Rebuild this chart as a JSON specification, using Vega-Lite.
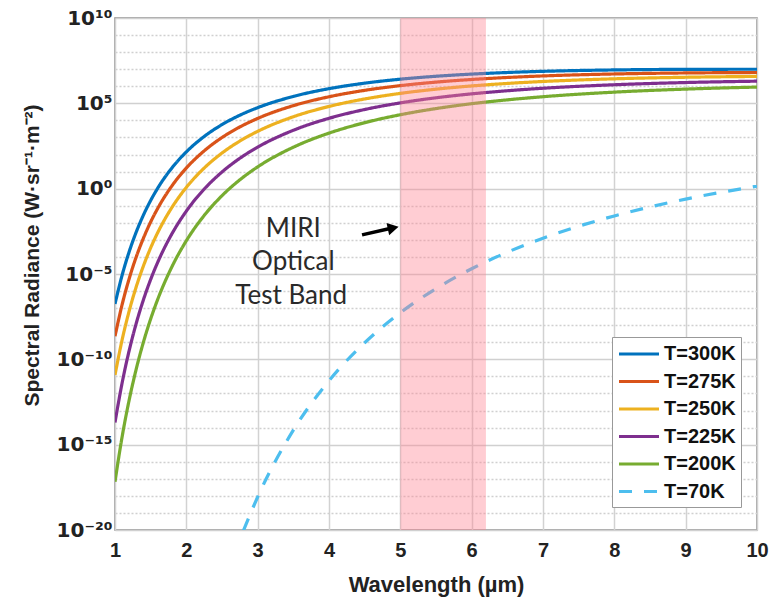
{
  "$schema": "https://vega.github.io/schema/vega-lite/v6.json",
  "width": 642,
  "height": 512,
  "autosize": "none",
  "padding": {"left": 115, "top": 18, "right": 22, "bottom": 75},
  "background": "white",
  "config": {
    "view": {"stroke": "#8a8a8a", "strokeWidth": 1.5},
    "font": "Liberation Sans"
  },
  "datasets": {
    "curves": [
      {"wl":1,"B":1.77e-7,"series":"T=300K"},{"wl":1.1,"B":8.59e-6,"series":"T=300K"},{"wl":1.2,"B":2.10e-4,"series":"T=300K"},{"wl":1.3,"B":3.05e-3,"series":"T=300K"},{"wl":1.4,"B":2.93e-2,"series":"T=300K"},{"wl":1.5,"B":0.204,"series":"T=300K"},{"wl":1.6,"B":1.09,"series":"T=300K"},{"wl":1.8,"B":16.9,"series":"T=300K"},{"wl":2,"B":143,"series":"T=300K"},{"wl":2.25,"B":1143,"series":"T=300K"},{"wl":2.5,"B":5675,"series":"T=300K"},{"wl":2.75,"B":20180,"series":"T=300K"},{"wl":3,"B":55850,"series":"T=300K"},{"wl":3.5,"B":254100,"series":"T=300K"},{"wl":4,"B":722800,"series":"T=300K"},{"wl":4.5,"B":1517000,"series":"T=300K"},{"wl":5,"B":2.60e6,"series":"T=300K"},{"wl":5.5,"B":3.86e6,"series":"T=300K"},{"wl":6,"B":5.16e6,"series":"T=300K"},{"wl":6.5,"B":6.41e6,"series":"T=300K"},{"wl":7,"B":7.50e6,"series":"T=300K"},{"wl":8,"B":9.06e6,"series":"T=300K"},{"wl":9,"B":9.80e6,"series":"T=300K"},{"wl":10,"B":9.93e6,"series":"T=300K"},
      {"wl":1,"B":2.26e-9,"series":"T=275K"},{"wl":1.1,"B":1.63e-7,"series":"T=275K"},{"wl":1.2,"B":5.56e-6,"series":"T=275K"},{"wl":1.3,"B":1.07e-4,"series":"T=275K"},{"wl":1.4,"B":1.30e-3,"series":"T=275K"},{"wl":1.5,"B":1.12e-2,"series":"T=275K"},{"wl":1.6,"B":7.14e-2,"series":"T=275K"},{"wl":1.8,"B":1.50,"series":"T=275K"},{"wl":2,"B":16.2,"series":"T=275K"},{"wl":2.25,"B":164,"series":"T=275K"},{"wl":2.5,"B":993,"series":"T=275K"},{"wl":2.75,"B":4130,"series":"T=275K"},{"wl":3,"B":13060,"series":"T=275K"},{"wl":3.5,"B":73120,"series":"T=275K"},{"wl":4,"B":242700,"series":"T=275K"},{"wl":4.5,"B":576800,"series":"T=275K"},{"wl":5,"B":1.089e6,"series":"T=275K"},{"wl":5.5,"B":1.75e6,"series":"T=275K"},{"wl":6,"B":2.50e6,"series":"T=275K"},{"wl":6.5,"B":3.27e6,"series":"T=275K"},{"wl":7,"B":4.03e6,"series":"T=275K"},{"wl":8,"B":5.26e6,"series":"T=275K"},{"wl":9,"B":6.03e6,"series":"T=275K"},{"wl":10,"B":6.41e6,"series":"T=275K"},
      {"wl":1,"B":1.21e-11,"series":"T=250K"},{"wl":1.1,"B":1.40e-9,"series":"T=250K"},{"wl":1.2,"B":7.11e-8,"series":"T=250K"},{"wl":1.3,"B":1.91e-6,"series":"T=250K"},{"wl":1.4,"B":3.10e-5,"series":"T=250K"},{"wl":1.5,"B":3.41e-4,"series":"T=250K"},{"wl":1.6,"B":2.72e-3,"series":"T=250K"},{"wl":1.8,"B":8.20e-2,"series":"T=250K"},{"wl":2,"B":1.19,"series":"T=250K"},{"wl":2.25,"B":16.1,"series":"T=250K"},{"wl":2.5,"B":122.5,"series":"T=250K"},{"wl":2.75,"B":616.6,"series":"T=250K"},{"wl":3,"B":2286,"series":"T=250K"},{"wl":3.5,"B":16410,"series":"T=250K"},{"wl":4,"B":65610,"series":"T=250K"},{"wl":4.5,"B":180300,"series":"T=250K"},{"wl":5,"B":381900,"series":"T=250K"},{"wl":5.5,"B":676100,"series":"T=250K"},{"wl":6,"B":1.045e6,"series":"T=250K"},{"wl":6.5,"B":1.466e6,"series":"T=250K"},{"wl":7,"B":1.906e6,"series":"T=250K"},{"wl":8,"B":2.735e6,"series":"T=250K"},{"wl":9,"B":3.37e6,"series":"T=250K"},{"wl":10,"B":3.78e6,"series":"T=250K"},
      {"wl":1,"B":2.01e-14,"series":"T=225K"},{"wl":1.1,"B":4.19e-12,"series":"T=225K"},{"wl":1.2,"B":3.44e-10,"series":"T=225K"},{"wl":1.3,"B":1.39e-8,"series":"T=225K"},{"wl":1.4,"B":3.22e-7,"series":"T=225K"},{"wl":1.5,"B":4.80e-6,"series":"T=225K"},{"wl":1.6,"B":4.98e-5,"series":"T=225K"},{"wl":1.8,"B":2.35e-3,"series":"T=225K"},{"wl":2,"B":4.84e-2,"series":"T=225K"},{"wl":2.25,"B":0.938,"series":"T=225K"},{"wl":2.5,"B":9.48,"series":"T=225K"},{"wl":2.75,"B":60.3,"series":"T=225K"},{"wl":3,"B":271,"series":"T=225K"},{"wl":3.5,"B":2636,"series":"T=225K"},{"wl":4,"B":13270,"series":"T=225K"},{"wl":4.5,"B":43450,"series":"T=225K"},{"wl":5,"B":106400,"series":"T=225K"},{"wl":5.5,"B":211400,"series":"T=225K"},{"wl":6,"B":359700,"series":"T=225K"},{"wl":6.5,"B":547000,"series":"T=225K"},{"wl":7,"B":765600,"series":"T=225K"},{"wl":8,"B":1.227e6,"series":"T=225K"},{"wl":9,"B":1.656e6,"series":"T=225K"},{"wl":10,"B":1.99e6,"series":"T=225K"},
      {"wl":1,"B":6.81e-18,"series":"T=200K"},{"wl":1.1,"B":2.92e-15,"series":"T=200K"},{"wl":1.2,"B":4.41e-13,"series":"T=200K"},{"wl":1.3,"B":2.97e-11,"series":"T=200K"},{"wl":1.4,"B":1.07e-9,"series":"T=200K"},{"wl":1.5,"B":2.33e-8,"series":"T=200K"},{"wl":1.6,"B":3.37e-7,"series":"T=200K"},{"wl":1.8,"B":2.77e-5,"series":"T=200K"},{"wl":2,"B":8.89e-4,"series":"T=200K"},{"wl":2.25,"B":2.69e-2,"series":"T=200K"},{"wl":2.5,"B":0.388,"series":"T=200K"},{"wl":2.75,"B":3.30,"series":"T=200K"},{"wl":3,"B":18.9,"series":"T=200K"},{"wl":3.5,"B":268.5,"series":"T=200K"},{"wl":4,"B":1799,"series":"T=200K"},{"wl":4.5,"B":7362,"series":"T=200K"},{"wl":5,"B":21480,"series":"T=200K"},{"wl":5.5,"B":49320,"series":"T=200K"},{"wl":6,"B":95060,"series":"T=200K"},{"wl":6.5,"B":160000,"series":"T=200K"},{"wl":7,"B":244300,"series":"T=200K"},{"wl":8,"B":452900,"series":"T=200K"},{"wl":9,"B":682300,"series":"T=200K"},{"wl":10,"B":895400,"series":"T=200K"},
      {"wl":2.8,"B":9.12e-21,"series":"T=70K"},{"wl":3,"B":8.61e-19,"series":"T=70K"},{"wl":3.5,"B":7.10e-15,"series":"T=70K"},{"wl":4,"B":5.61e-12,"series":"T=70K"},{"wl":4.5,"B":9.40e-10,"series":"T=70K"},{"wl":5,"B":5.35e-8,"series":"T=70K"},{"wl":5.5,"B":1.39e-6,"series":"T=70K"},{"wl":6,"B":2.03e-5,"series":"T=70K"},{"wl":6.5,"B":1.90e-4,"series":"T=70K"},{"wl":7,"B":1.26e-3,"series":"T=70K"},{"wl":8,"B":2.53e-2,"series":"T=70K"},{"wl":9,"B":0.244,"series":"T=70K"},{"wl":10,"B":1.41,"series":"T=70K"}
    ],
    "band": [{"wl": 5, "wl2": 6.2}],
    "notes": [
      {"wl": 3.5, "B": 4.37e-3, "label": "MIRI"},
      {"wl": 3.5, "B": 5.13e-5, "label": "Optical"},
      {"wl": 3.47, "B": 5.13e-7, "label": "Test Band"}
    ],
    "arrow": [{"wl": 4.463, "B": 1.95e-3, "wl2": 4.87, "B2": 4.8e-3}],
    "head": [{"wl": 4.9, "B": 5.0e-3}]
  },
  "layer": [
    {
      "data": {"name": "curves"},
      "mark": {"type": "line", "strokeWidth": 3.2, "clip": true, "interpolate": "monotone"},
      "encoding": {
        "x": {
          "field": "wl", "type": "quantitative",
          "scale": {"domain": [1, 10], "nice": false, "zero": false},
          "axis": {
            "title": "Wavelength (µm)",
            "values": [1,2,3,4,5,6,7,8,9,10],
            "format": "d",
            "grid": true, "gridColor": "#d2d2d2", "gridWidth": 1.5,
            "ticks": false, "domain": false,
            "labelFont": "Liberation Sans", "labelFontSize": 20, "labelFontWeight": "bold", "labelColor": "#222",
            "labelPadding": 10, "labelFlush": false, "labelOverlap": false,
            "titleFont": "Liberation Sans", "titleFontSize": 22, "titleFontWeight": "bold", "titleColor": "#222",
            "titleY": 61, "titleBaseline": "alphabetic"
          }
        },
        "y": {
          "field": "B", "type": "quantitative",
          "scale": {"type": "log", "domain": [1e-20, 1e10], "nice": false},
          "axis": {
            "title": "Spectral Radiance  (W·sr⁻¹·m⁻²)",
            "values": [1e-20,1e-19,1e-18,1e-17,1e-16,1e-15,1e-14,1e-13,1e-12,1e-11,1e-10,1e-9,1e-8,1e-7,1e-6,1e-5,1e-4,1e-3,1e-2,1e-1,1,10,100,1000,1e4,1e5,1e6,1e7,1e8,1e9,1e10],
            "labelExpr": "round(log(datum.value)/LN10) === 10 ? '10¹⁰' : round(log(datum.value)/LN10) === 5 ? '10⁵' : round(log(datum.value)/LN10) === 0 ? '10⁰' : round(log(datum.value)/LN10) === -5 ? '10⁻⁵' : round(log(datum.value)/LN10) === -10 ? '10⁻¹⁰' : round(log(datum.value)/LN10) === -15 ? '10⁻¹⁵' : round(log(datum.value)/LN10) === -20 ? '10⁻²⁰' : ''",
            "grid": true, "gridColor": "#d0d0d0", "gridWidth": 1.3,
            "gridDash": {"condition": {"test": "round(log(datum.value)/LN10) % 5 === 0", "value": [1, 0]}, "value": [2, 2]},
            "ticks": false, "domain": false,
            "labelFont": "DejaVu Sans", "labelFontSize": 20, "labelFontWeight": "bold", "labelColor": "#222",
            "labelPadding": 3, "labelOffset": 0, "labelFlush": false, "labelOverlap": false, "labelBound": false,
            "titleFont": "Liberation Sans", "titleFontSize": 21, "titleFontWeight": "bold", "titleColor": "#222",
            "titleX": -83, "titleY": 237, "titleAlign": "center", "titleBaseline": "middle", "titleAngle": -90
          }
        },
        "color": {
          "field": "series", "type": "nominal",
          "scale": {"domain": ["T=300K","T=275K","T=250K","T=225K","T=200K","T=70K"], "range": ["#0072BD","#D95319","#EDB120","#7E2F8E","#77AC30","#4DBEEE"]},
          "legend": {
            "title": null, "orient": "none", "legendX": 497, "legendY": 319,
            "symbolType": "M-2,0L2,0", "symbolSize": 400, "symbolStrokeWidth": 3.2, "symbolOffset": 10,
            "labelFont": "Liberation Sans", "labelFontSize": 20, "labelFontWeight": "bold", "labelColor": "#111",
            "labelOffset": 13, "fillColor": "white", "strokeColor": "#999", "padding": 5, "rowPadding": 5.5
          }
        },
        "strokeDash": {
          "field": "series", "type": "nominal",
          "scale": {"domain": ["T=300K","T=275K","T=250K","T=225K","T=200K","T=70K"], "range": [[1,0],[1,0],[1,0],[1,0],[1,0],[13,12]]},
          "legend": {
            "title": null, "orient": "none", "legendX": 497, "legendY": 319,
            "symbolType": "M-2,0L2,0", "symbolSize": 400, "symbolStrokeWidth": 3.2, "symbolOffset": 10,
            "labelFont": "Liberation Sans", "labelFontSize": 20, "labelFontWeight": "bold", "labelColor": "#111",
            "labelOffset": 13, "fillColor": "white", "strokeColor": "#999", "padding": 5, "rowPadding": 5.5
          }
        }
      }
    },
    {
      "data": {"name": "band"},
      "mark": {"type": "rect", "color": "#ff8290", "opacity": 0.4},
      "encoding": {
        "x": {"field": "wl", "type": "quantitative"},
        "x2": {"field": "wl2"}
      }
    },
    {
      "data": {"name": "notes"},
      "mark": {"type": "text", "font": "Lato", "fontSize": 26, "color": "#2a2a2a", "align": "center", "baseline": "middle"},
      "encoding": {
        "x": {"field": "wl", "type": "quantitative"},
        "y": {"field": "B", "type": "quantitative"},
        "text": {"field": "label"}
      }
    },
    {
      "data": {"name": "arrow"},
      "mark": {"type": "rule", "strokeWidth": 3.5, "color": "black"},
      "encoding": {
        "x": {"field": "wl", "type": "quantitative"},
        "y": {"field": "B", "type": "quantitative"},
        "x2": {"field": "wl2"},
        "y2": {"field": "B2"}
      }
    },
    {
      "data": {"name": "head"},
      "mark": {"type": "point", "shape": "triangle-right", "filled": true, "color": "black", "opacity": 1, "size": 160, "angle": -12},
      "encoding": {
        "x": {"field": "wl", "type": "quantitative"},
        "y": {"field": "B", "type": "quantitative"}
      }
    }
  ]
}
